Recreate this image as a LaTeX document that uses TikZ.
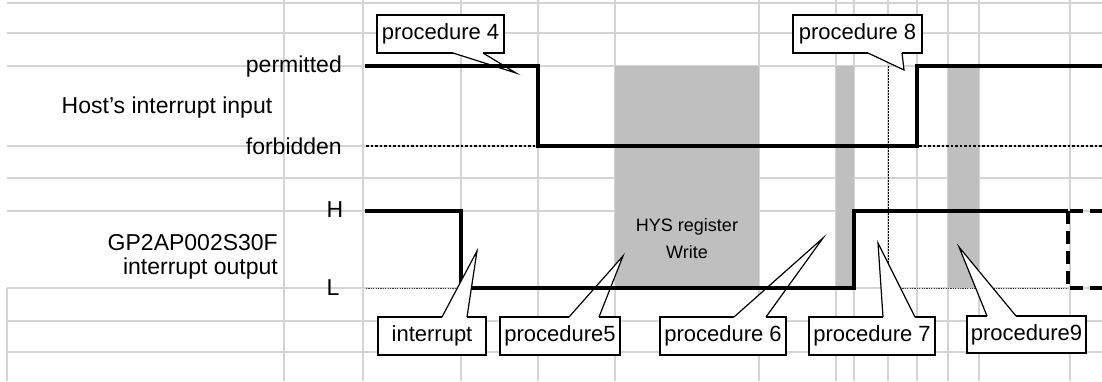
\documentclass[tikz,border=0pt]{standalone}
\usepackage{fontspec}
\setmainfont{Liberation Sans}
\usetikzlibrary{calc}
\newcommand\callwedge[4]{%
  \fill[white] ($(#1)+(0,#4)$) -- (#1) -- (#2) -- (#3) -- ($(#3)+(0,#4)$) -- cycle;
  \draw[callline] (#1) -- (#2) -- (#3);}
\begin{document}
\begin{tikzpicture}[x=1pt,y=-1pt,
  gridline/.style={draw=black!17, line width=1.3pt},
  shadebox/.style={fill=black!25},
  sig/.style={line width=4.5pt, line join=miter},
  sigdash/.style={line width=4.5pt, dash pattern=on 13pt off 7pt},
  hostdot/.style={line width=2pt, dash pattern=on 2.5pt off 2pt},
  thindot/.style={draw=black!75, line width=0.9pt, dash pattern=on 1.2pt off 1.2pt},
  vdot/.style={line width=1pt, dash pattern=on 1.5pt off 1.5pt},
  lab/.style={inner sep=0pt, font=\fontsize{23}{26}\selectfont},
  callline/.style={line width=1.2pt, line join=miter},
  callbox/.style={draw, fill=white, line width=1.2pt, inner sep=0pt,
    minimum height=38pt, font=\fontsize{22}{25}\selectfont},
]
\useasboundingbox (0,0) rectangle (1102,381);
\fill[white] (0,0) rectangle (1102,381);
% grid
\foreach \y in {3,33,66,146,178,211,288,321,352}
  \draw[gridline] (7,\y) -- (1102,\y);
\foreach \x in {284,363,461,538,615,759,836,854,888,917,948,979,1070}
  \draw[gridline] (\x,0) -- (\x,381);
\draw[gridline] (7,288) -- (7,381);
% shaded periods
\fill[shadebox] (615,66) rectangle (759,288);
\fill[shadebox] (836,66) rectangle (854,288);
\fill[shadebox] (948,66) rectangle (979,288);
\node[inner sep=0pt, align=center, font=\fontsize{18}{27}\selectfont] (hys) at (687,239) {HYS register\\Write};
% labels
\node[lab, anchor=east] (perm) at (342,67) {permitted};
\node[lab] (host) at (167,108) {Host's interrupt input};
\node[lab, anchor=east] (forb) at (342,146) {forbidden};
\node[lab] (hH) at (335,210) {H};
\node[lab] (lL) at (333,288) {L};
\node[lab, anchor=east] (gp) at (278,243) {GP2AP002S30F};
\node[lab, anchor=east] (io) at (278,269) {interrupt output};
% dotted reference lines
\draw[hostdot] (366,146) -- (536,146);
\draw[hostdot] (919,146) -- (1102,146);
\draw[thindot] (366,288) -- (459,288);
\draw[thindot] (888,288) -- (1066,288);
\draw[vdot] (888,66) -- (888,300);
% callouts (below signals)
\node[callbox, minimum width=127pt] (c4) at (440.5,34) {procedure 4};
\coordinate (c4a) at (453,53); \coordinate (c4t) at (516,73); \coordinate (c4b) at (483,53);
\callwedge{c4a}{c4t}{c4b}{-2}
\node[callbox, minimum width=129pt] (c8) at (857.5,34) {procedure 8};
\coordinate (c8a) at (868,53); \coordinate (c8t) at (904,70); \coordinate (c8b) at (902,53);
\callwedge{c8a}{c8t}{c8b}{-2}
\node[callbox, minimum width=120pt] (c5) at (560,336) {procedure5};
\coordinate (c5a) at (569,317); \coordinate (c5t) at (623,256); \coordinate (c5b) at (599,317);
\callwedge{c5a}{c5t}{c5b}{2}
\node[callbox, minimum width=126pt] (c6) at (723,336) {procedure 6};
\coordinate (c6a) at (734,317); \coordinate (c6t) at (823,238); \coordinate (c6b) at (766,317);
\callwedge{c6a}{c6t}{c6b}{2}
\node[callbox, minimum width=126pt] (c7) at (872,336) {procedure 7};
\coordinate (c7a) at (883,317); \coordinate (c7t) at (878,243); \coordinate (c7b) at (915,317);
\callwedge{c7a}{c7t}{c7b}{2}
\node[callbox, minimum width=119pt, minimum height=37pt] (c9) at (1026.5,334.5) {procedure9};
\coordinate (c9a) at (987,316); \coordinate (c9t) at (959,247); \coordinate (c9b) at (1016,316);
\callwedge{c9a}{c9t}{c9b}{2}
% signals
\draw[sig] (365,66) -- (538,66) -- (538,146) -- (917,146) -- (917,66) -- (1102,66);
\draw[sig] (365,211) -- (461,211) -- (461,288) -- (854,288) -- (854,211) -- (1068,211);
\draw[sigdash] (1068,211) -- (1068,288);
\draw[sigdash] (1070,211) -- (1102,211);
\draw[sigdash] (1070,288) -- (1102,288);
% interrupt callout (above signal)
\node[callbox, minimum width=108pt] (ci) at (432,336) {interrupt};
\coordinate (cia) at (442,317); \coordinate (cit) at (477,251); \coordinate (cib) at (467,317);
\callwedge{cia}{cit}{cib}{2}
\end{tikzpicture}
\end{document}
